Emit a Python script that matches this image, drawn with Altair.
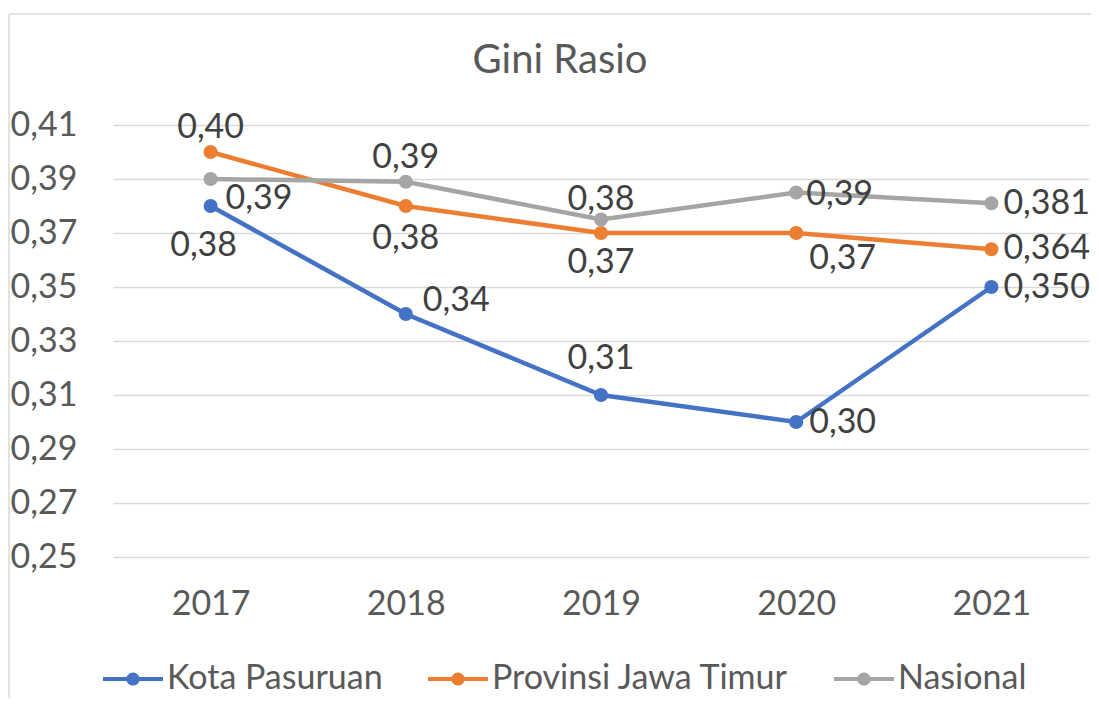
import altair as alt
import pandas as pd

years = ["2017", "2018", "2019", "2020", "2021"]
series_names = ["Kota Pasuruan", "Provinsi Jawa Timur", "Nasional"]
kota_pasuruan = [0.38, 0.34, 0.31, 0.30, 0.350]
jawa_timur = [0.40, 0.38, 0.37, 0.37, 0.364]
nasional = [0.39, 0.389, 0.375, 0.385, 0.381]
label_decimals = [2, 2, 2, 2, 3]
y_ticks = [0.25, 0.27, 0.29, 0.31, 0.33, 0.35, 0.37, 0.39, 0.41]
colors = ["#4472C4", "#ED7D31", "#A5A5A5"]

rows = []
for name, vals in zip(series_names, [kota_pasuruan, jawa_timur, nasional]):
    for yr, v, d in zip(years, vals, label_decimals):
        rows.append({"series": name, "year": yr, "value": v,
                     "label": f"{v:.{d}f}".replace(".", ",")})
df = pd.DataFrame(rows)

FONT = "Lato"
FS = 34
W, H = 976, 432
PAD = {"left": 105, "top": 117, "right": 2, "bottom": 141}

place = {
    ("Kota Pasuruan", "2017"): ("center", -7, 40),
    ("Kota Pasuruan", "2018"): ("left", 17, -13),
    ("Kota Pasuruan", "2019"): ("center", 0, -36),
    ("Kota Pasuruan", "2020"): ("left", 13, 1),
    ("Kota Pasuruan", "2021"): ("left", 12, 1),
    ("Provinsi Jawa Timur", "2017"): ("center", 0, -24),
    ("Provinsi Jawa Timur", "2018"): ("center", 0, 33),
    ("Provinsi Jawa Timur", "2019"): ("center", 0, 30),
    ("Provinsi Jawa Timur", "2020"): ("left", 13, 26),
    ("Provinsi Jawa Timur", "2021"): ("left", 12, 0),
    ("Nasional", "2017"): ("left", 15, 20),
    ("Nasional", "2018"): ("center", 0, -24),
    ("Nasional", "2019"): ("center", 0, -20),
    ("Nasional", "2020"): ("left", 10, 2),
    ("Nasional", "2021"): ("left", 12, 1),
}

x_enc = alt.X("year:N", title=None,
              scale=alt.Scale(type="point", padding=0.5),
              axis=alt.Axis(labelAngle=0, ticks=False, domain=False, grid=False,
                            labelPadding=30, labelFontSize=FS, labelFont=FONT,
                            labelColor="#595959"))
y_enc = alt.Y("value:Q", title=None,
              scale=alt.Scale(domain=[0.25, 0.41], nice=False, zero=False),
              axis=alt.Axis(values=y_ticks, ticks=False, domain=False,
                            labelExpr="replace(format(datum.value, '.2f'), '.', ',')",
                            labelPadding=36, labelFontSize=FS, labelFont=FONT,
                            labelColor="#595959", gridColor="#D9D9D9",
                            gridWidth=1.5))

legend_path = ("M-1,-0.07H1V0.07H-1Z "
               "M0.22,0A0.22,0.22 0 1,1 -0.22,0A0.22,0.22 0 1,1 0.22,0Z")

color_scale = alt.Scale(domain=series_names, range=colors)
color_pt = alt.Color(
    "series:N",
    scale=color_scale,
    legend=alt.Legend(
        title=None, orient="none", direction="horizontal",
        legendX=-10, legendY=524,
        symbolType=legend_path, symbolSize=3600, symbolStrokeWidth=0,
        labelFont=FONT, labelFontSize=FS, labelColor="#595959",
        labelOffset=4, columnPadding=45, labelLimit=500,
    ),
)

one = pd.DataFrame({"a": [0]})
border_left = alt.Chart(one).mark_rule(color="#D9D9D9", strokeWidth=1.5).encode(
    x=alt.value(-104), y=alt.value(-111), y2=alt.value(H + PAD["bottom"]))
border_top = alt.Chart(one).mark_rule(color="#D9D9D9", strokeWidth=1.5).encode(
    x=alt.value(-104), x2=alt.value(W + PAD["right"]), y=alt.value(-111))

layers = [border_left, border_top]
for name, col in zip(series_names, colors):
    sub = alt.Chart(df).transform_filter(alt.datum.series == name)
    layers.append(sub.mark_line(strokeWidth=4.5, color=col).encode(x=x_enc, y=y_enc))
    layers.append(sub.mark_point(filled=True, size=200, opacity=1).encode(
        x=x_enc, y=y_enc, color=color_pt))

for (name, yr), (al, dx, dy) in place.items():
    layers.append(
        alt.Chart(df)
        .transform_filter((alt.datum.series == name) & (alt.datum.year == yr))
        .mark_text(align=al, baseline="middle", dx=dx, dy=dy, font=FONT,
                   fontSize=FS, color="#404040")
        .encode(x=x_enc, y=y_enc, text="label:N")
    )

chart = alt.layer(*layers).properties(
    width=W, height=H,
    title=alt.TitleParams("Gini Rasio", font=FONT, fontSize=40, fontWeight="normal",
                          color="#595959", anchor="middle", dx=-41, offset=-68),
    autosize=alt.AutoSizeParams(type="none"),
    padding=PAD,
).configure_view(stroke=None)

chart.save("out.html", embed_options={"renderer": "svg", "actions": False})
